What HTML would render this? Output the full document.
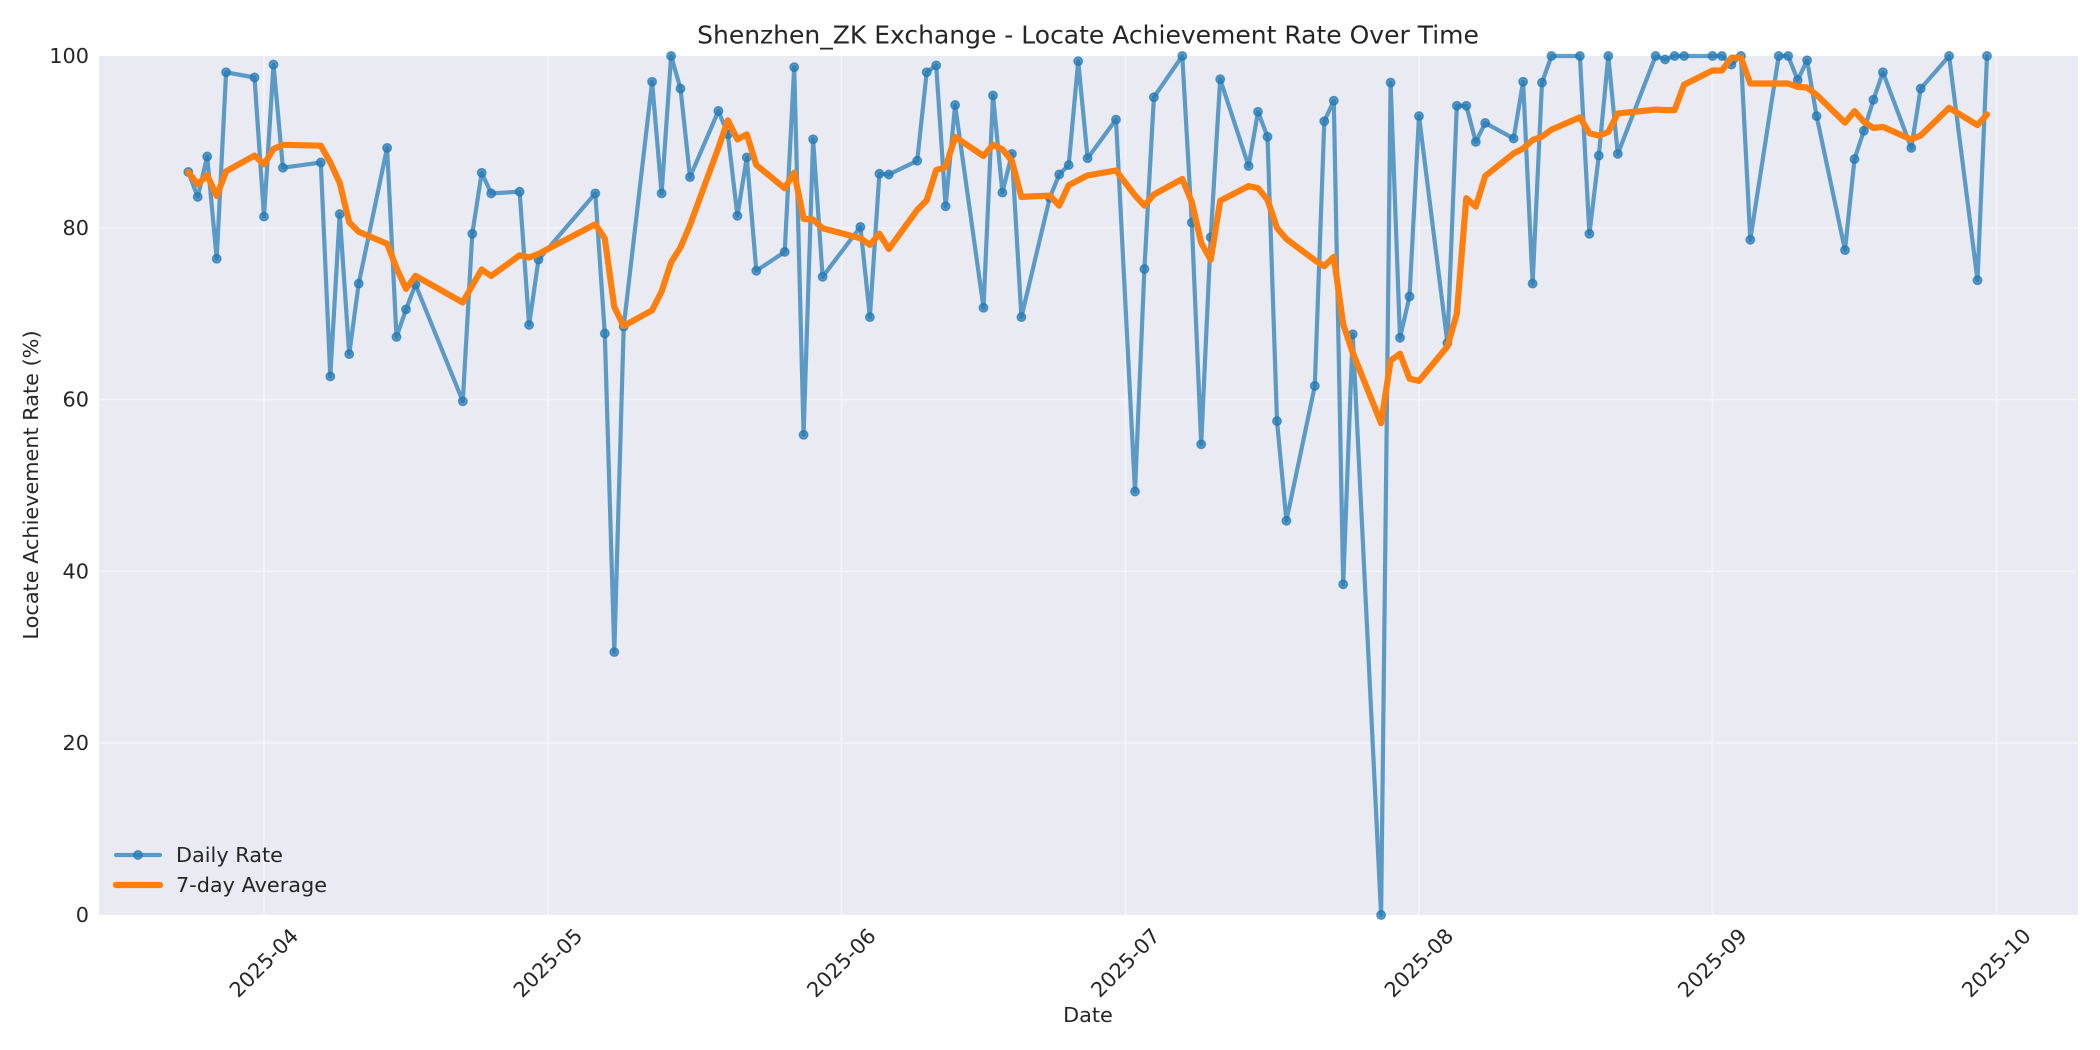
<!DOCTYPE html>
<html><head><meta charset="utf-8">
<style>
html,body{margin:0;padding:0;background:#fff;}
svg{display:block;font-family:"DejaVu Sans","Liberation Sans",sans-serif;}
</style></head>
<body>
<svg id="c" width="2100" height="1050" viewBox="0 0 2100 1050" xmlns="http://www.w3.org/2000/svg">
<rect x="0" y="0" width="2100" height="1050" fill="#ffffff"/>
<rect x="99" y="56" width="1979" height="859" fill="#EAEAF2"/>
<g id="grid" stroke="#F4F4F8" stroke-width="1.6"></g>
<g id="series"></g>
<g id="labels" fill="#262626"></g>
<text x="1088" y="35" font-size="25" text-anchor="middle" dominant-baseline="central" fill="#262626">Shenzhen_ZK Exchange - Locate Achievement Rate Over Time</text>
<text x="1088" y="1015" font-size="20.8" text-anchor="middle" dominant-baseline="central" fill="#262626">Date</text>
<text x="0" y="0" font-size="20.8" text-anchor="middle" dominant-baseline="central" fill="#262626" transform="translate(31,485) rotate(-90)">Locate Achievement Rate (%)</text>
<!-- legend -->
<line x1="116" y1="855" x2="160" y2="855" stroke="#1f77b4" stroke-opacity="0.7" stroke-width="4.2" stroke-linecap="round"/>
<circle cx="138" cy="855" r="4.2" fill="#1f77b4" fill-opacity="0.7" stroke="#1f77b4" stroke-opacity="0.7" stroke-width="1.5"/>
<line x1="116" y1="885" x2="160" y2="885" stroke="#ff7f0e" stroke-width="6.2" stroke-linecap="round"/>
<text x="176" y="855" font-size="20.8" dominant-baseline="central" fill="#262626">Daily Rate</text>
<text x="176" y="885" font-size="20.8" dominant-baseline="central" fill="#262626">7-day Average</text>
</svg>
<script>
(function(){
var NS="http://www.w3.org/2000/svg";
function el(tag,attrs,parent,txt){var e=document.createElementNS(NS,tag);for(var k in attrs)e.setAttribute(k,attrs[k]);if(txt!==undefined)e.textContent=txt;parent.appendChild(e);return e;}
var X0=264, PX=9.467, YB=915, YS=8.59;
function xd(d){return X0+d*PX;}
function yv(v){return YB-v*YS;}
var grid=document.getElementById('grid');
var labels=document.getElementById('labels');
[0,20,40,60,80,100].forEach(function(v){
  var y=yv(v);
  if(v>0&&v<100) el('line',{x1:99,y1:y,x2:2078,y2:y},grid);
  el('text',{x:89,y:y,'font-size':20.8,'text-anchor':'end','dominant-baseline':'central'},labels,String(v));
});
var months=[["2025-04",0],["2025-05",30],["2025-06",61],["2025-07",91],["2025-08",122],["2025-09",153],["2025-10",183]];
months.forEach(function(m){
  var x=xd(m[1]);
  el('line',{x1:x,y1:56,x2:x,y2:915},grid);
  el('text',{x:0,y:0,'font-size':20.8,'text-anchor':'middle','dominant-baseline':'central',transform:'translate('+x+',963) rotate(-45)'},labels,m[0]);
});
var data=[[-8,86.5],[-7,83.6],[-6,88.3],[-5,76.4],[-4,98.1],[-1,97.5],[0,81.3],[1,99.0],[2,87.0],
[6,87.6],[7,62.7],[8,81.6],[9,65.3],[10,73.5],[13,89.3],[14,67.3],[15,70.5],[16,73.4],
[21,59.8],[22,79.3],[23,86.4],[24,84.0],[27,84.2],[28,68.7],[29,76.3],
[35,84.0],[36,67.7],[37,30.6],[38,68.5],[41,97.0],[42,84.0],[43,100],[44,96.2],[45,85.9],
[48,93.6],[49,90.9],[50,81.4],[51,88.2],[52,75.0],[55,77.2],[56,98.7],[57,55.9],[58,90.3],[59,74.3],
[63,80.1],[64,69.6],[65,86.3],[66,86.2],[69,87.8],[70,98.1],[71,98.9],[72,82.5],[73,94.3],
[76,70.7],[77,95.4],[78,84.1],[79,88.6],[80,69.6],[83,83.5],[84,86.2],[85,87.3],[86,99.4],[87,88.1],
[90,92.6],[92,49.3],[93,75.2],[94,95.2],[97,100],[98,80.6],[99,54.8],[100,78.9],[101,97.3],
[104,87.2],[105,93.5],[106,90.6],[107,57.5],[108,45.9],[111,61.6],[112,92.4],[113,94.8],[114,38.5],[115,67.6],
[118,0],[119,96.9],[120,67.2],[121,72.0],[122,93.0],[125,66.6],[126,94.2],[127,94.2],[128,90.0],[129,92.2],
[132,90.4],[133,97.0],[134,73.5],[135,96.9],[136,100],[139,100],[140,79.3],[141,88.4],[142,100],[143,88.6],
[147,100],[148,99.6],[149,100],[150,100],[153,100],[154,100],[155,99.0],[156,100],[157,78.6],
[160,100],[161,100],[162,97.2],[163,99.5],[164,93.0],[167,77.4],[168,88.0],[169,91.3],[170,94.9],[171,98.1],
[174,89.3],[175,96.2],[178,100],[181,73.9],[182,100]];
var series=document.getElementById('series');
var pts=data.map(function(p){return xd(p[0]).toFixed(1)+','+yv(p[1]).toFixed(1);}).join(' ');
el('polyline',{points:pts,fill:'none',stroke:'#1f77b4','stroke-opacity':0.7,'stroke-width':4.2,'stroke-linejoin':'round','stroke-linecap':'round'},series);
data.forEach(function(p){
  el('circle',{cx:xd(p[0]).toFixed(1),cy:yv(p[1]).toFixed(1),r:4.2,fill:'#1f77b4','fill-opacity':0.7,stroke:'#1f77b4','stroke-opacity':0.7,'stroke-width':1.5},series);
});
var avg=[];
for(var i=0;i<data.length;i++){
  var s=0,n=0;
  for(var j=Math.max(0,i-6);j<=i;j++){s+=data[j][1];n++;}
  avg.push(xd(data[i][0]).toFixed(1)+','+yv(s/n).toFixed(1));
}
el('polyline',{points:avg.join(' '),fill:'none',stroke:'#ff7f0e','stroke-width':6.2,'stroke-linejoin':'round','stroke-linecap':'round'},series);
})();
</script>
</body></html>
